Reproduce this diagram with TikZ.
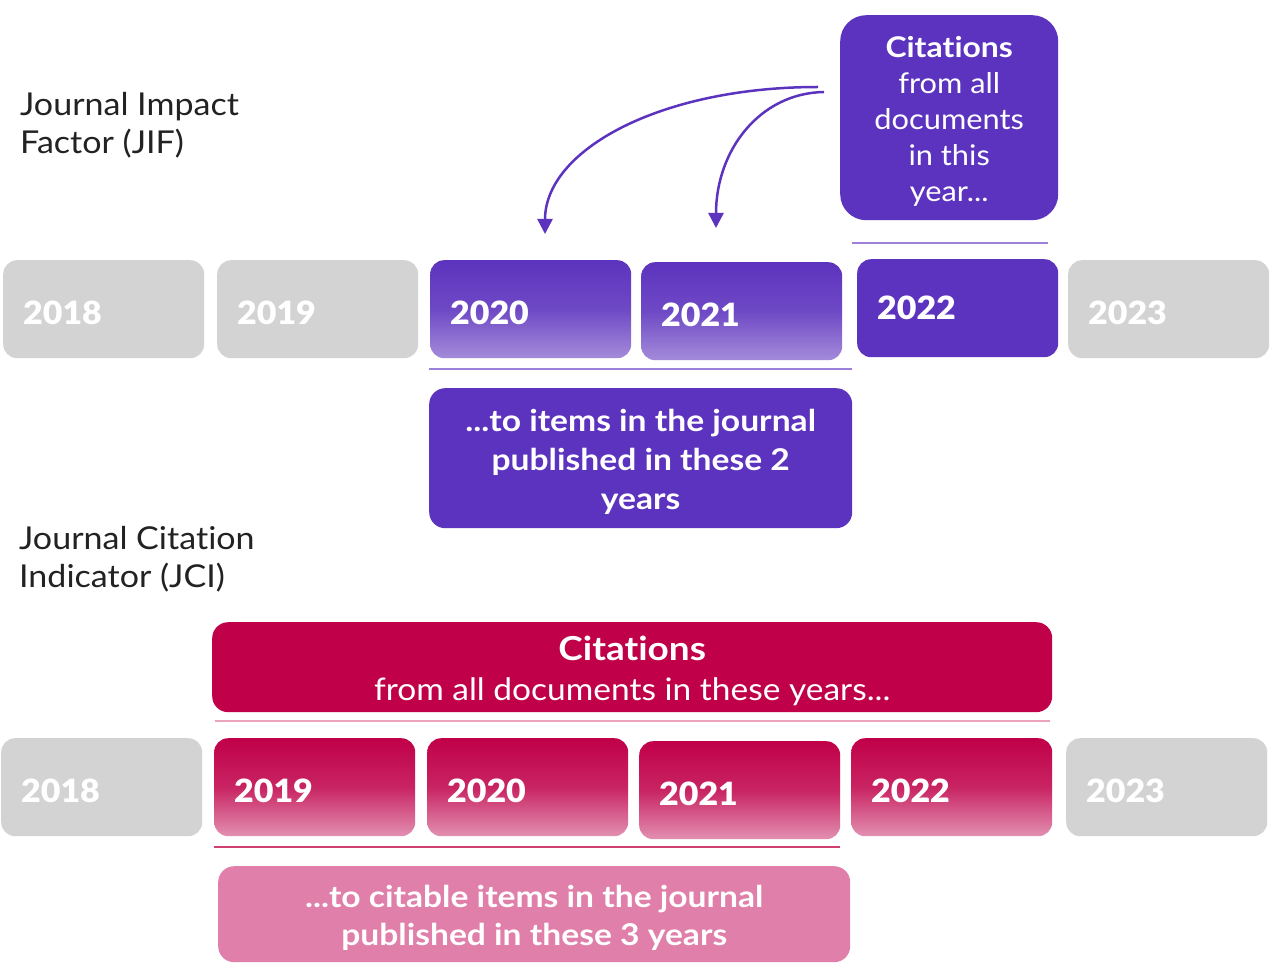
\documentclass[tikz,border=0pt]{standalone}
\usepackage{fontspec}
\setmainfont{Lato}[Ligatures=NoCommon, FakeStretch=1.08, BoldFeatures={FakeStretch=1.12}]
\newfontfamily\yearfont{Lato Black}[FakeStretch=1.06]
\usetikzlibrary{arrows.meta}
\newcommand\pushdown[1]{\rule{0pt}{#1}}
\definecolor{jpurple}{HTML}{5C33BE}
\definecolor{jpurplelt}{HTML}{A48BDA}
\definecolor{jline}{HTML}{9C80DA}
\definecolor{jcrim}{HTML}{C00048}
\definecolor{jpinkgrad}{HTML}{E290B2}
\definecolor{jpink}{HTML}{E07FA9}
\definecolor{jpinkline}{HTML}{EBA3BE}
\definecolor{jcrimline}{HTML}{D0406F}
\definecolor{jgray}{HTML}{D3D3D3}
\definecolor{jtext}{HTML}{222222}
\begin{document}
\begin{tikzpicture}[x=1pt,y=-1pt,
  yearbox/.style={rounded corners=14pt, minimum width=201pt, minimum height=98pt,
    anchor=north west, inner xsep=20pt, inner ysep=0pt, text width=161pt, align=left,
    text height=31pt, text depth=0pt,
    text=white, font=\fontsize{32}{36}\yearfont},
  graybox/.style={yearbox, fill=jgray},
  jifgrad/.style={yearbox, top color=jpurple, bottom color=jpurplelt, middle color=jpurple!75!jpurplelt},
  jifsolid/.style={yearbox, fill=jpurple},
  jcigrad/.style={yearbox, top color=jcrim, bottom color=jpinkgrad, middle color=jcrim!75!jpinkgrad},
  infobox/.style={rounded corners=16pt, anchor=north west, text=white, align=center, inner sep=0pt},
  sidelabel/.style={anchor=north west, align=left, text=jtext, inner sep=0pt,
    font=\fontsize{31.5}{38.5}\selectfont},
  rule/.style={line width=2pt},
  citearrow/.style={jpurple, line width=2.5pt, -{Triangle[length=15pt,width=15pt]}}
]
\useasboundingbox (0,0) rectangle (1281,973);

% side labels
\node[sidelabel] (jif) at (20,92) {Journal Impact\\Factor (JIF)};
\node[sidelabel] (jci) at (19,526) {Journal Citation\\Indicator (JCI)};

% JIF row
\node[graybox] (a2018) at (3,260) {2018};
\node[graybox] (a2019) at (217,260) {2019};
\node[jifgrad] (a2020) at (430,260) {2020};
\node[jifgrad] (a2021) at (641,262) {2021};
\node[jifsolid, text height=23pt] (a2022) at (857,259) {2022};
\node[graybox] (a2023) at (1068,260) {2023};

% callout
\node[infobox, rounded corners=26pt, fill=jpurple, minimum width=218pt, minimum height=205pt,
  font=\fontsize{28.5}{36}\selectfont] (cite1) at (840,15)
  {\pushdown{29pt}{\bfseries Citations}\\from all\\documents\\in this\\year...};

% rule above 2022 and under 2020-2021
\coordinate (r1a) at (852,243); \coordinate (r1b) at (1048,243);
\draw[rule, jline, line width=1.5pt] (r1a) -- (r1b);
\coordinate (r2a) at (429,369); \coordinate (r2b) at (852,369);
\draw[rule, jline] (r2a) -- (r2b);

% arrows
\coordinate (s1) at (818,87);
\coordinate (s2) at (824,92);
\coordinate (e1) at (545,234);
\coordinate (e2) at (716,228);
\draw[citearrow] (s1) .. controls (660,87) and (545,150) .. (e1);
\draw[citearrow] (s2) .. controls (760,93) and (716,150) .. (e2);

% JIF items box
\node[infobox, fill=jpurple, minimum width=423pt, minimum height=140pt,
  font=\fontsize{30}{39}\selectfont\bfseries] (items1) at (429,388)
  {\pushdown{30pt}...to items in the journal\\published in these 2\\years};

% JCI citations box
\node[infobox, fill=jcrim, minimum width=840pt, minimum height=90pt,
  font=\fontsize{31}{40}\selectfont] (cite2) at (212,622)
  {\pushdown{32pt}{\fontsize{33}{40}\selectfont\bfseries Citations}\\from all documents in these years...};
\coordinate (r3a) at (215,721); \coordinate (r3b) at (1050,721);
\draw[rule, jpinkline] (r3a) -- (r3b);

% JCI row
\node[graybox] (b2018) at (1,738) {2018};
\node[jcigrad] (b2019) at (214,738) {2019};
\node[jcigrad] (b2020) at (427,738) {2020};
\node[jcigrad] (b2021) at (639,741) {2021};
\node[jcigrad] (b2022) at (851,738) {2022};
\node[graybox] (b2023) at (1066,738) {2023};

\coordinate (r4a) at (214,847); \coordinate (r4b) at (840,847);
\draw[rule, jcrimline] (r4a) -- (r4b);

% JCI items box
\node[infobox, fill=jpink, minimum width=632pt, minimum height=96pt,
  font=\fontsize{30}{38}\selectfont\bfseries] (items2) at (218,866)
  {\pushdown{30pt}...to citable items in the journal\\published in these 3 years};
\end{tikzpicture}
\end{document}
